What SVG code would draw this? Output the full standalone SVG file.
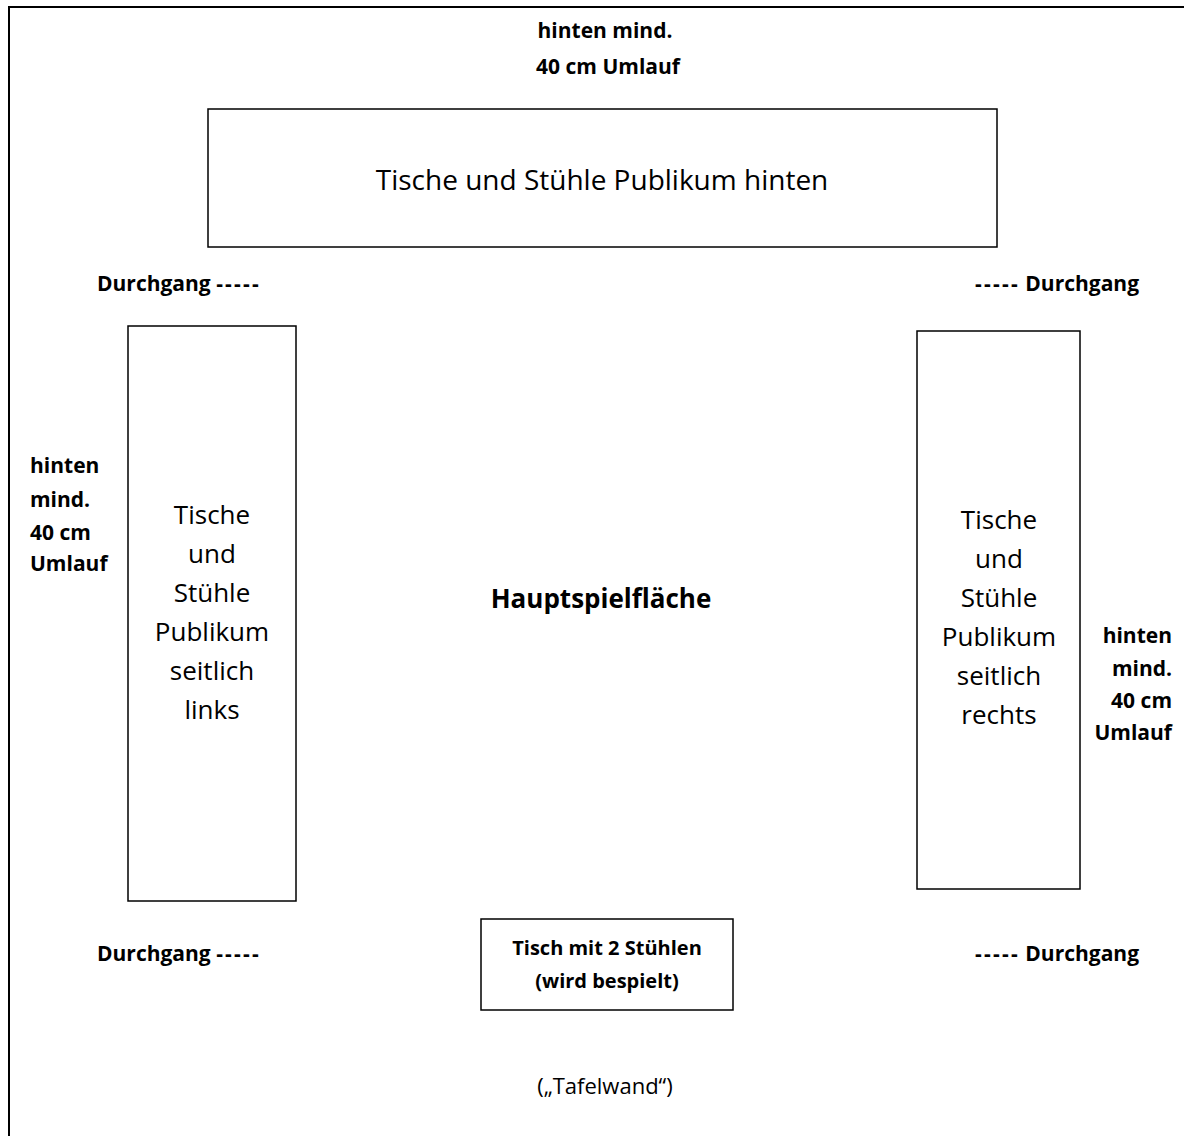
<svg xmlns="http://www.w3.org/2000/svg" width="1184" height="1136" viewBox="0 0 1184 1136">
<style>
text{font-family:"Open Sans","Liberation Sans",sans-serif;fill:#000}
.b{font-weight:bold;font-size:21px}
.r{font-size:26px}
.h{letter-spacing:2.2px}
.box{fill:#fff;stroke:#000;stroke-width:1.5}
</style>
<rect width="1184" height="1136" fill="#fff"/>
<g id="frame"><path d="M9,1136 V7 H1184" fill="none" stroke="#000" stroke-width="2"/></g>
<g id="label-top"><text class="b" x="605" y="38" text-anchor="middle">hinten mind.</text><text class="b" x="608" y="74" text-anchor="middle">40 cm Umlauf</text></g>
<g id="node-hinten"><rect class="box" x="208" y="109" width="789" height="138"/><text x="602" y="190" text-anchor="middle" style="font-size:28px">Tische und Stühle Publikum hinten</text></g>
<g id="durchgang"><text class="b" x="97" y="291">Durchgang <tspan class="h">-----</tspan></text><text class="b" x="1139" y="291" text-anchor="end"><tspan class="h">-----</tspan> Durchgang</text><text class="b" x="97" y="961">Durchgang <tspan class="h">-----</tspan></text><text class="b" x="1139" y="961" text-anchor="end"><tspan class="h">-----</tspan> Durchgang</text></g>
<g id="label-left"><text class="b" x="30" y="473">hinten</text><text class="b" x="30" y="507">mind.</text><text class="b" x="30" y="540">40 cm</text><text class="b" x="30" y="571">Umlauf</text></g>
<g id="node-links"><rect class="box" x="128" y="326" width="168" height="575"/><g text-anchor="middle"><text class="r" x="212" y="524">Tische</text><text class="r" x="212" y="563">und</text><text class="r" x="212" y="602">Stühle</text><text class="r" x="212" y="641">Publikum</text><text class="r" x="212" y="680">seitlich</text><text class="r" x="212" y="719">links</text></g></g>
<g id="node-haupt"><text x="601" y="608" text-anchor="middle" style="font-weight:bold;font-size:26px">Hauptspielfläche</text></g>
<g id="node-rechts"><rect class="box" x="917" y="331" width="163" height="558"/><g text-anchor="middle"><text class="r" x="999" y="529">Tische</text><text class="r" x="999" y="568">und</text><text class="r" x="999" y="607">Stühle</text><text class="r" x="999" y="646">Publikum</text><text class="r" x="999" y="685">seitlich</text><text class="r" x="999" y="724">rechts</text></g></g>
<g id="label-right" text-anchor="end"><text class="b" x="1172" y="643">hinten</text><text class="b" x="1172" y="676">mind.</text><text class="b" x="1172" y="708">40 cm</text><text class="b" x="1172" y="740">Umlauf</text></g>
<g id="node-tisch"><rect class="box" x="481" y="919" width="252" height="91"/><text class="b" x="607" y="955" text-anchor="middle" style="font-size:20px">Tisch mit 2 Stühlen</text><text class="b" x="607" y="988" text-anchor="middle" style="font-size:20px">(wird bespielt)</text></g>
<g id="label-tafel"><text x="605" y="1094" text-anchor="middle" style="font-size:22px">(„Tafelwand“)</text></g>
</svg>
